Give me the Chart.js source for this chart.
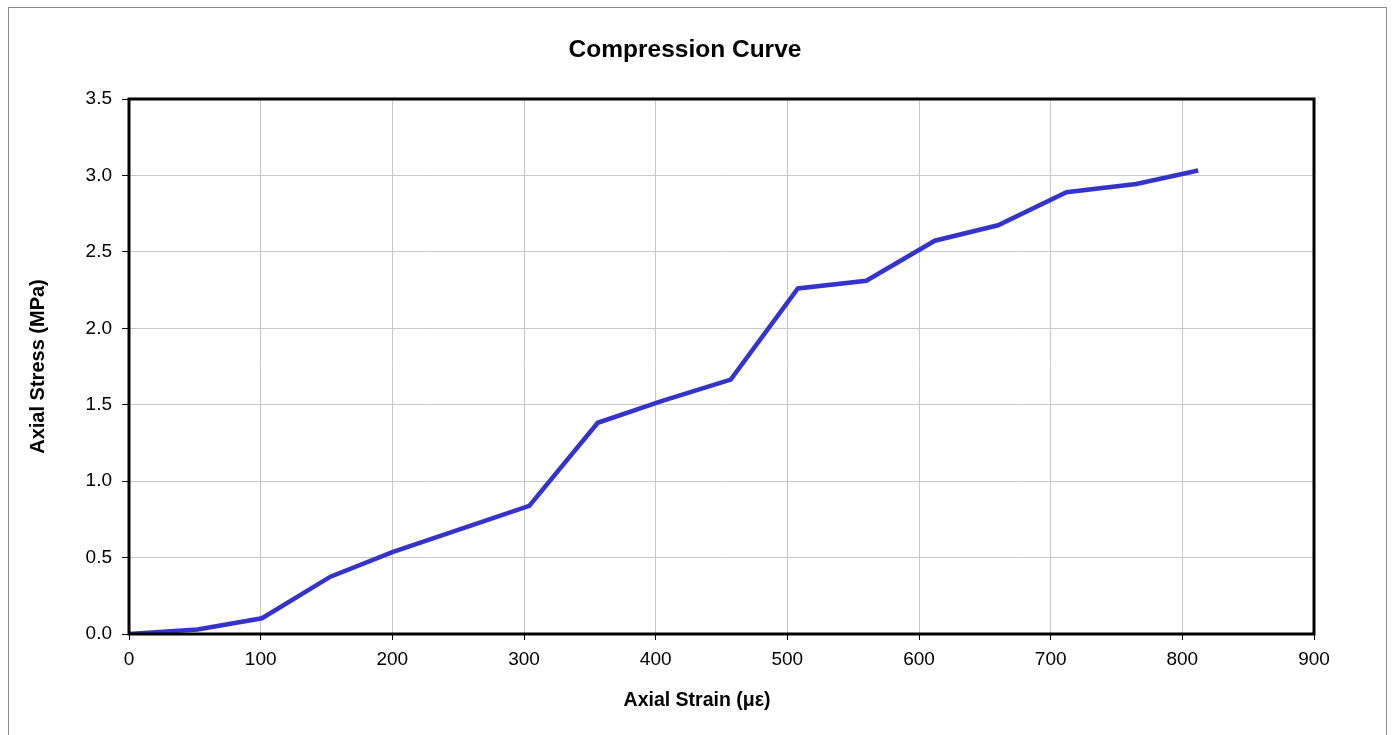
<!DOCTYPE html>
<html lang="en">
<head>
    <meta charset="UTF-8">
    <title>Compression Curve</title>
    <script src="https://cdn.jsdelivr.net/npm/chart.js@4.4.1/dist/chart.umd.min.js"></script>
    <style>
        html, body { margin: 0; padding: 0; background: #fff; }
        #wrap { width: 1393px; height: 735px; }
    </style>
</head>
<body>
<div id="wrap"><canvas id="curve" width="1393" height="735"></canvas></div>
<script>
    // strain readings (micro-strain) and matching stress (MPa)
    var strain = [0, 52, 101, 153, 200, 304, 356, 405, 457, 508, 560, 612, 660, 712, 765, 812];
    var stress = [0, 0.03, 0.103, 0.375, 0.536, 0.838, 1.382, 1.525, 1.664, 2.261, 2.311, 2.573, 2.674, 2.890, 2.944, 3.032];

    var xTicks = [0, 100, 200, 300, 400, 500, 600, 700, 800, 900];
    var yTicks = [0, 0.5, 1.0, 1.5, 2.0, 2.5, 3.0, 3.5];

    var chartTitle = 'Compression Curve';
    var xTitle = 'Axial Strain (\u03bc\u03b5)';
    var yTitle = 'Axial Stress (MPa)';

    var points = [];
    for (var i = 0; i < strain.length; i++) {
        points.push({x: strain[i], y: stress[i]});
    }

    var FONT = "'Liberation Sans', Arial, sans-serif";

    // white page, thin grey frame, titles centred on the page, black box round the plot
    var framePlugin = {
        id: 'frame',
        beforeDraw: function (chart) {
            var ctx = chart.ctx;
            ctx.save();
            ctx.fillStyle = '#fff';
            ctx.fillRect(0, 0, chart.width, chart.height);
            ctx.strokeStyle = '#8c8c8c';
            ctx.lineWidth = 1;
            ctx.strokeRect(8.5, 7.5, 1378, 740);

            ctx.fillStyle = '#000';
            ctx.textAlign = 'center';
            ctx.textBaseline = 'middle';
            ctx.font = 'bold 24.5px ' + FONT;
            ctx.fillText(chartTitle, 685, 50);
            ctx.font = 'bold 19.5px ' + FONT;
            ctx.fillText(xTitle, 697, 701);
            ctx.restore();
        },
        afterDatasetsDraw: function (chart) {
            var a = chart.chartArea;
            var ctx = chart.ctx;
            ctx.save();
            ctx.strokeStyle = '#000';
            ctx.lineWidth = 3;
            ctx.strokeRect(a.left, a.top, a.right - a.left, a.bottom - a.top);
            ctx.restore();
        }
    };

    Chart.defaults.font.family = FONT;
    Chart.defaults.color = '#000';

    new Chart(document.getElementById('curve'), {
        type: 'scatter',
        data: {
            datasets: [{
                label: 'Compression',
                data: points,
                showLine: true,
                borderColor: '#3434cc',
                backgroundColor: '#3434cc',
                borderWidth: 4.5,
                pointRadius: 0,
                tension: 0
            }]
        },
        options: {
            responsive: false,
            animation: false,
            layout: { padding: { left: 0, right: 79, top: 99, bottom: 0 } },
            plugins: {
                legend: { display: false },
                tooltip: { enabled: false },
                title: { display: false }
            },
            scales: {
                x: {
                    type: 'linear',
                    min: 0,
                    max: 900,
                    afterBuildTicks: function (s) {
                        s.ticks = xTicks.map(function (v) { return {value: v}; });
                    },
                    afterFit: function (s) { s.height = 101; },
                    ticks: {
                        font: { size: 19 },
                        padding: 8,
                        maxRotation: 0
                    },
                    grid: { color: '#c8c8c8', tickColor: '#000', tickLength: 6, lineWidth: 1 },
                    border: { display: false },
                    title: { display: false }
                },
                y: {
                    type: 'linear',
                    min: 0,
                    max: 3.5,
                    afterBuildTicks: function (s) {
                        s.ticks = yTicks.map(function (v) { return {value: v}; });
                    },
                    afterFit: function (s) { s.width = 129; },
                    ticks: {
                        font: { size: 19 },
                        padding: 10,
                        callback: function (v) { return v.toFixed(1); }
                    },
                    grid: { color: '#c8c8c8', tickColor: '#000', tickLength: 7, lineWidth: 1 },
                    border: { display: false },
                    title: {
                        display: true,
                        text: yTitle,
                        font: { size: 20, weight: 'bold' },
                        padding: { top: 26, bottom: 0 }
                    }
                }
            }
        },
        plugins: [framePlugin]
    });
</script>
</body>
</html>
